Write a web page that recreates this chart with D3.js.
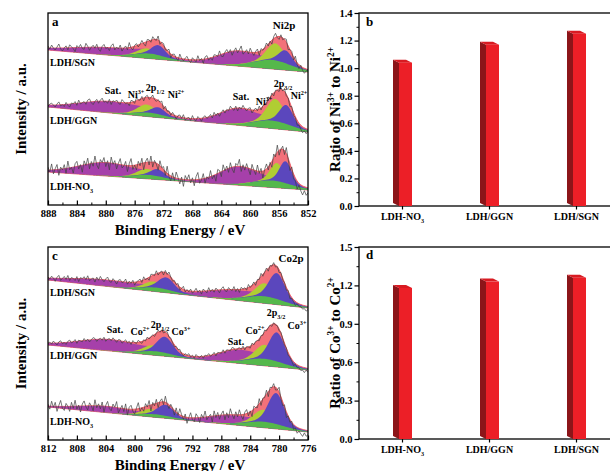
<!DOCTYPE html>
<html>
<head>
<meta charset="utf-8">
<script src="https://cdn.jsdelivr.net/npm/d3@7"></script>
<style>
  body { margin: 0; background: #fff; }
  svg { display: block; font-family: "Liberation Serif", "Times New Roman", serif; font-weight: bold; }
</style>
</head>
<body>
<svg id="chart" width="610" height="471"></svg>
<script>
// ---------- values ----------
const niTicks = [888, 884, 880, 876, 872, 868, 864, 860, 856, 852];
const coTicks = [812, 808, 804, 800, 796, 792, 788, 784, 780, 776];
const traceNames = ['LDH/SGN', 'LDH/GGN', 'LDH-NO3'];

// straight background of each trace (intensity at the left and right end), top to bottom
const niBaselines = [[155, 133], [98, 73], [33, 15]];
const coBaselines = [[160, 132], [95, 70], [33, 8]];

// fitted components: [centre / eV, height, FWHM / eV]
const niSgnBg = [[874, 5, 5], [857, 9, 6]];
const niSgnSat = [[879.5, 7, 12], [862, 13, 6]];
const niSgnNi3 = [[874.4, 5, 2.8], [856.5, 17, 2.8]];
const niSgnNi2 = [[872.7, 10, 2.2], [855.1, 13, 2.2]];

const niGgnBg = [[874, 4, 5], [857, 8, 6]];
const niGgnSat = [[879.5, 11, 10], [861.8, 15, 6]];
const niGgnNi3 = [[874.4, 8, 2.8], [856.5, 22, 2.8]];
const niGgnNi2 = [[872.7, 7, 2.2], [855.0, 19, 2.2]];

const niNo3Bg = [[874, 4, 5], [857, 7, 6]];
const niNo3Sat = [[880, 13, 9], [861.8, 17, 6]];
const niNo3Ni3 = [[874.4, 6, 2.8], [856.3, 18, 2.2]];
const niNo3Ni2 = [[872.8, 7, 2.2], [855.1, 22, 2.0]];

const coSgnBg = [[797, 4, 5], [782, 7, 6]];
const coSgnSat = [[804, 6, 12], [787, 8, 8]];
const coSgnCo2 = [[797.4, 6, 3], [782, 13, 3]];
const coSgnCo3 = [[795.6, 12, 2.6], [780.3, 26, 2.6]];

const coGgnBg = [[797, 4, 5], [782, 7, 6]];
const coGgnSat = [[803.5, 11, 10], [786, 11, 6]];
const coGgnCo2 = [[797.5, 6, 3], [782, 14, 3]];
const coGgnCo3 = [[795.8, 16, 2.6], [780.3, 29, 2.6]];

const coNo3Bg = [[797, 3, 5], [782, 6, 6]];
const coNo3Sat = [[804, 6, 9], [787, 8, 7]];
const coNo3Co2 = [[797.8, 5, 3], [782.2, 12, 3]];
const coNo3Co3 = [[795.7, 11, 2.6], [780.4, 31, 2.6]];

// scatter of the measured counts around the fit, 0.25 eV apart from the left end
const niSgnResidual = [2,-1,3,0,-2,1,4,-1,-3,0, 2,-2,3,1,-1,-4,2,0,3,-1, -2,4,1,-3,0,2,-1,3,-2,-4,
  1,3,-1,0,-3,2,4,-2,1,-1, 3,-3,0,2,-2,5,-1,-3,1,2, -2,0,3,-1,-4,2,1,-2,3,0, -1,4,-3,1,2,-2,0,3,-4,1,
  2,-1,-3,4,0,-2,1,3,-1,-3, 2,0,-2,4,-1,1,-4,2,3,-2, 0,-3,2,1,-1,4,-2,-3,1,3, -1,2,-4,0,3,-2,1,5,-3,-1,
  2,-2,4,0,-3,1,3,-4,2,-1, 0,3,-2,1,-4,2,4,-1,-3,2, -2,1,3,-4,0,2,-3,4,-2,-4, 1,-3,-5,-2,0];
const niGgnResidual = [-1,1,2,0,-2,1,3,-1,0,-2, 2,-1,-3,1,0,2,-2,3,-1,0, 1,-2,2,3,-1,-3,0,2,-2,1,
  3,-1,0,-2,2,-3,1,0,2,-1, -2,3,1,-1,0,-3,2,1,-2,3, 0,-1,2,-3,1,2,-2,0,3,-1, -2,1,0,3,-3,2,-1,1,-2,2,
  0,-3,1,2,-1,3,-2,0,1,-2, 3,-1,-2,2,0,-3,1,2,-1,0, 2,-2,3,-1,1,-3,0,2,-2,1, -1,3,0,-2,2,-3,1,-1,3,0,
  -2,1,2,-3,0,2,-1,3,-2,1, 0,-2,3,-1,2,-3,1,0,-2,2, -1,3,-2,0,-4,1,-3,-1,-5,-2, -4,-6,-3,-5,-2];
const niNo3Residual = [3,-2,6,-4,1,5,-6,2,-1,4, -5,7,-2,0,-6,3,5,-3,1,-7, 4,-1,6,-5,2,-3,7,-2,-6,3,
  0,5,-4,2,-7,6,-1,3,-5,1, 6,-3,-1,4,-6,2,7,-4,0,-5, 3,-2,5,-7,1,4,-3,6,-5,2, -1,-6,5,0,3,-4,7,-2,-5,4,
  -3,6,1,-5,2,-7,4,0,5,-3, 2,-6,3,7,-4,-1,5,-5,1,-2, 6,-3,0,-7,4,2,-5,6,-1,3, -4,5,-2,-6,3,1,7,-5,2,-3,
  4,-1,-6,5,0,-4,6,-2,3,-7, 1,5,-3,2,-6,4,-2,7,-5,0, 3,-4,6,-1,-7,2,-5,-3,-8,-2, -6,-9,-4,-8,-5];
const coSgnResidual = [1,-1,2,0,-3,1,3,-2,0,2, -1,3,-2,1,0,-2,2,-3,1,0, 2,-1,3,-2,0,1,-3,2,-1,3,
  0,-2,1,3,-1,-2,2,0,-3,1, 2,-1,0,3,-2,1,-1,2,-3,0, 1,2,-2,3,-1,0,-3,2,1,-1, 3,-2,0,1,-3,2,-1,3,0,-2,
  1,-1,2,-3,0,3,-2,1,-1,2, -2,0,3,-1,1,-3,2,0,-2,3, -1,1,-2,2,0,-3,1,3,-1,-2, 2,0,-1,3,-2,1,-3,2,0,1,
  -2,3,-1,0,2,-3,1,-1,3,-2, 0,2,-3,1,-1,2,-2,0,-3,1, -2,0,-3,1,-4,-1,-2,-4,-1,-3, -2,-4,-3,-5,-3];
const coGgnResidual = [0,1,-1,2,0,-2,1,2,-1,0, -2,1,2,-1,0,2,-2,1,0,-1, 2,-1,1,-2,0,2,1,-2,0,1,
  -1,2,-2,0,1,-1,2,0,-2,1, 1,-2,0,2,-1,1,-2,2,0,-1, 2,0,-2,1,-1,2,-1,0,1,-2, 0,2,-1,1,-2,0,2,-1,1,-1,
  -2,1,0,2,-1,-2,1,0,2,-1, 1,-2,2,0,-1,1,-2,1,0,2, -1,0,2,-2,1,0,-1,2,-2,1, 0,-1,2,1,-2,0,1,-1,2,-2,
  1,0,-2,2,-1,1,0,-2,1,-1, 2,-1,0,1,-2,1,-1,0,-2,1, -1,-2,0,-3,-1,-2,-4,-1,-3,-2, -4,-3,-5,-2,-4];
const coNo3Residual = [2,-3,5,-1,4,-5,1,6,-2,-4, 3,0,-5,4,-2,6,-3,1,-6,2, 5,-1,-4,3,0,-5,6,-2,2,-3,
  4,-6,1,5,-2,-4,3,0,6,-5, -1,3,-3,5,-6,2,4,-2,-5,1, 6,-3,0,-4,3,-1,5,-6,2,-2, 4,-5,1,3,-3,6,-1,-4,2,0,
  -5,4,-2,6,1,-3,3,-6,0,5, -2,-4,4,1,-5,3,-1,6,-3,0, 2,-6,5,-2,3,-4,1,4,-5,2, -3,6,0,-4,3,-2,5,-1,-5,2,
  4,-3,1,-6,3,0,-2,5,-4,1, -1,4,-5,2,0,3,-3,-1,5,-2, -4,2,-6,0,-3,1,-5,-2,-6,-3, -5,-7,-3,-6,-4];

const ratioSamples = ['LDH-NO3', 'LDH/GGN', 'LDH/SGN'];
const niRatio = [1.04, 1.17, 1.25];
const coRatio = [1.18, 1.23, 1.26];
const niRatioTicks = [0.0, 0.2, 0.4, 0.6, 0.8, 1.0, 1.2, 1.4];
const coRatioTicks = [0.0, 0.3, 0.6, 0.9, 1.2, 1.5];

// ---------- drawing ----------
const svg = d3.select('#chart');
const colors = {
    envelope: '#f3717a', envelopeLine: '#e6404c', sat: '#a640aa',
    left: '#b0cd33', right: '#5b47bd', bg: '#55b84b', raw: '#404040', bar: '#ec1f27', barSide: '#8c1519', barTop: '#d81b22'
};

function peakAt(e, p) {
    const t = (e - p[0]) / p[2];
    return p[1] * (0.8 * Math.exp(-4 * Math.LN2 * t * t) + 0.2 / (1 + 4 * t * t));
}
function sumPeaks(e, list) {
    return d3.sum(list, p => peakAt(e, p));
}

// text with super/subscripts: parts = [[string, ''|'sup'|'sub'], ...]
function richText(sel, parts, size) {
    let shift = 0;
    parts.forEach(([str, kind]) => {
        const target = kind === 'sup' ? -size * 0.38 : kind === 'sub' ? size * 0.28 : 0;
        const t = sel.append('tspan').text(str).attr('dy', target - shift);
        if (kind) t.attr('font-size', size * 0.62);
        shift = target;
    });
    return sel;
}
function label(x, y, parts, size, anchor) {
    const t = svg.append('text').attr('x', x).attr('y', y)
        .attr('font-size', size).attr('text-anchor', anchor || 'middle');
    return richText(t, parts, size);
}
function nameParts(name) {
    return name === 'LDH-NO3' ? [['LDH-NO', ''], ['3', 'sub']] : [[name, '']];
}

function drawSpectra(opts) {
    const x = d3.scaleLinear().domain([opts.ticks[0], opts.ticks[opts.ticks.length - 1]]).range([opts.left, opts.right]);
    const y = d3.scaleLinear().domain([0, opts.bottom - opts.top]).range([opts.bottom, opts.top]);
    const [hiE, loE] = x.domain();

    svg.append('clipPath').attr('id', opts.id).append('rect')
        .attr('x', opts.left).attr('y', opts.top)
        .attr('width', opts.right - opts.left).attr('height', opts.bottom - opts.top);
    const plot = svg.append('g').attr('clip-path', `url(#${opts.id})`);

    const grid = d3.range(hiE, loE - 0.01, -0.2);
    const area = d3.area().x(d => x(d.e)).y0(d => y(d.lo)).y1(d => y(d.hi));

    opts.rows.forEach(row => {
        const base = d3.scaleLinear().domain([hiE, loE]).range(row.base);
        const bgAt = e => sumPeaks(e, row.bg);
        const totalAt = e => bgAt(e) + sumPeaks(e, row.sat) + sumPeaks(e, row.left) + sumPeaks(e, row.right);

        plot.append('path')
            .datum(grid.map(e => ({ e, lo: base(e), hi: base(e) + totalAt(e) })))
            .attr('d', area)
            .attr('fill', colors.envelope)
            .attr('stroke', colors.envelopeLine)
            .attr('stroke-width', 0.8);

        const component = (list, color) => list.forEach(p => {
            const pts = grid.filter(e => Math.abs(e - p[0]) < p[2] * 2.5)
                .map(e => ({ e, lo: base(e), hi: base(e) + bgAt(e) + peakAt(e, p) }));
            plot.append('path').datum(pts).attr('d', area).attr('fill', color);
        });
        component(row.sat, colors.sat);
        component(row.left, colors.left);
        component(row.right, colors.right);

        plot.append('path')
            .datum(grid.map(e => ({ e, lo: base(e), hi: base(e) + bgAt(e) })))
            .attr('d', area)
            .attr('fill', colors.bg);

        const step = (hiE - loE) / (row.residual.length - 1);
        const raw = row.residual.map((r, i) => {
            const e = hiE - i * step;
            return [x(e), y(base(e) + totalAt(e) + r)];
        });
        plot.append('path')
            .attr('d', d3.line()(raw))
            .attr('fill', 'none')
            .attr('stroke', colors.raw)
            .attr('stroke-width', 0.7);

        label(opts.left + 2, y(row.base[0]) - row.labelDrop, nameParts(row.name), 10, 'start');
    });

    // frame
    svg.append('rect')
        .attr('x', opts.left).attr('y', opts.top)
        .attr('width', opts.right - opts.left).attr('height', opts.bottom - opts.top)
        .attr('fill', 'none').attr('stroke', '#000').attr('stroke-width', 1.3);

    const minor = d3.pairs(opts.ticks).map(([a, b]) => (a + b) / 2);
    svg.append('g')
        .attr('transform', `translate(0,${opts.bottom})`)
        .call(d3.axisBottom(x).tickValues(minor).tickSize(-2.5).tickFormat(''))
        .call(g => g.select('.domain').remove());
    const ax = svg.append('g')
        .attr('transform', `translate(0,${opts.bottom})`)
        .call(d3.axisBottom(x).tickValues(opts.ticks).tickSize(-4.5).tickPadding(5).tickFormat(d3.format('d')));
    ax.select('.domain').remove();
    ax.selectAll('line').attr('stroke-width', 1.2);
    ax.selectAll('text').attr('font-size', 10.5).attr('font-family', 'Liberation Serif').attr('font-weight', 'bold').attr('fill', '#000');

    label((opts.left + opts.right) / 2 + 2, opts.bottom + 30, [['Binding Energy / eV', '']], 15);
    svg.append('text')
        .attr('transform', `translate(26,${(opts.top + opts.bottom) / 2}) rotate(-90)`)
        .attr('text-anchor', 'middle').attr('font-size', 15)
        .text('Intensity / a.u.');
}

function drawRatio(opts) {
    const x = d3.scaleBand().domain(ratioSamples).range([opts.left, opts.right]);
    const y = d3.scaleLinear().domain([0, opts.ticks[opts.ticks.length - 1]]).range([opts.bottom, opts.top]);
    const front = 13, dx = -6, dy = -3;

    svg.append('rect')
        .attr('x', opts.left).attr('y', opts.top)
        .attr('width', opts.right - opts.left).attr('height', opts.bottom - opts.top)
        .attr('fill', 'none').attr('stroke', '#000').attr('stroke-width', 1.3);

    const minor = d3.pairs(opts.ticks).map(([a, b]) => (a + b) / 2);
    svg.append('g')
        .attr('transform', `translate(${opts.left},0)`)
        .call(d3.axisLeft(y).tickValues(minor).tickSize(2.5).tickFormat(''))
        .call(g => g.select('.domain').remove());
    const ay = svg.append('g')
        .attr('transform', `translate(${opts.left},0)`)
        .call(d3.axisLeft(y).tickValues(opts.ticks).tickSize(4.5).tickPadding(2).tickFormat(d3.format('.1f')));
    ay.select('.domain').remove();
    ay.selectAll('line').attr('stroke-width', 1.2);
    ay.selectAll('text').attr('font-size', 10.5).attr('font-family', 'Liberation Serif').attr('font-weight', 'bold').attr('fill', '#000');

    const ax = svg.append('g')
        .attr('transform', `translate(0,${opts.bottom})`)
        .call(d3.axisBottom(x).tickSize(3.5).tickFormat(''));
    ax.select('.domain').remove();
    ax.selectAll('line').attr('stroke-width', 1.2);

    const bars = svg.append('g').selectAll('g')
        .data(ratioSamples.map((s, i) => ({ s, v: opts.values[i] })))
        .join('g');
    const fl = d => x(d.s) + x.bandwidth() / 2 - 3.5;
    bars.append('polygon')
        .attr('points', d => {
            const l = fl(d), t = y(d.v), b = y(0);
            return [[l + dx, t + dy], [l, t], [l, b], [l + dx, b + dy]].join(' ');
        })
        .attr('fill', colors.barSide);
    bars.append('polygon')
        .attr('points', d => {
            const l = fl(d), t = y(d.v);
            return [[l + dx, t + dy], [l + front + dx, t + dy], [l + front, t], [l, t]].join(' ');
        })
        .attr('fill', colors.barTop);
    bars.append('rect')
        .attr('x', fl).attr('y', d => y(d.v))
        .attr('width', front).attr('height', d => y(0) - y(d.v))
        .attr('fill', colors.bar);

    ratioSamples.forEach(s => {
        label(x(s) + x.bandwidth() / 2, opts.bottom + 14, nameParts(s), 10);
    });

    const ylab = svg.append('text')
        .attr('transform', `translate(340,${(opts.top + opts.bottom) / 2}) rotate(-90)`)
        .attr('text-anchor', 'middle').attr('font-size', 15);
    richText(ylab, opts.title, 15);
}

// ---- panel a ----
drawSpectra({
    id: 'clipA', left: 48, right: 308, top: 13, bottom: 205, ticks: niTicks,
    rows: [
        { name: traceNames[0], labelDrop: -16, base: niBaselines[0], bg: niSgnBg, sat: niSgnSat, left: niSgnNi3, right: niSgnNi2, residual: niSgnResidual },
        { name: traceNames[1], labelDrop: -17, base: niBaselines[1], bg: niGgnBg, sat: niGgnSat, left: niGgnNi3, right: niGgnNi2, residual: niGgnResidual },
        { name: traceNames[2], labelDrop: -18, base: niBaselines[2], bg: niNo3Bg, sat: niNo3Sat, left: niNo3Ni3, right: niNo3Ni2, residual: niNo3Residual }
    ]
});
label(52, 26, [['a', '']], 13, 'start');
label(284, 29, [['Ni2p', '']], 11);
label(113, 94, [['Sat.', '']], 10);
label(136, 98, [['Ni', ''], ['3+', 'sup']], 10);
label(155, 91, [['2p', ''], ['1/2', 'sub']], 10);
label(176, 98, [['Ni', ''], ['2+', 'sup']], 10);
label(241, 100, [['Sat.', '']], 10);
label(264, 105, [['Ni', ''], ['3+', 'sup']], 10);
label(283, 87, [['2p', ''], ['3/2', 'sub']], 10);
label(299, 99, [['Ni', ''], ['2+', 'sup']], 10);

// ---- panel c ----
drawSpectra({
    id: 'clipC', left: 48, right: 308, top: 247, bottom: 440, ticks: coTicks,
    rows: [
        { name: traceNames[0], labelDrop: -16, base: coBaselines[0], bg: coSgnBg, sat: coSgnSat, left: coSgnCo2, right: coSgnCo3, residual: coSgnResidual },
        { name: traceNames[1], labelDrop: -14, base: coBaselines[1], bg: coGgnBg, sat: coGgnSat, left: coGgnCo2, right: coGgnCo3, residual: coGgnResidual },
        { name: traceNames[2], labelDrop: -18, base: coBaselines[2], bg: coNo3Bg, sat: coNo3Sat, left: coNo3Co2, right: coNo3Co3, residual: coNo3Residual }
    ]
});
label(52, 260, [['c', '']], 13, 'start');
label(291, 262, [['Co2p', '']], 11);
label(115, 333, [['Sat.', '']], 10);
label(140, 335, [['Co', ''], ['2+', 'sup']], 10);
label(160, 328, [['2p', ''], ['1/2', 'sub']], 10);
label(181, 335, [['Co', ''], ['3+', 'sup']], 10);
label(236, 345, [['Sat.', '']], 10);
label(255, 334, [['Co', ''], ['2+', 'sup']], 10);
label(276, 316, [['2p', ''], ['3/2', 'sub']], 10);
label(297, 329, [['Co', ''], ['3+', 'sup']], 10);

// ---- panels b and d ----
drawRatio({
    left: 359, right: 620, top: 13, bottom: 206, ticks: niRatioTicks, values: niRatio,
    title: [['Ratio of Ni', ''], ['3+', 'sup'], [' to Ni', ''], ['2+', 'sup']]
});
label(366, 26, [['b', '']], 13, 'start');

drawRatio({
    left: 359, right: 620, top: 247, bottom: 439, ticks: coRatioTicks, values: coRatio,
    title: [['Ratio of Co', ''], ['3+', 'sup'], [' to Co', ''], ['2+', 'sup']]
});
label(366, 259, [['d', '']], 13, 'start');
</script>
</body>
</html>
